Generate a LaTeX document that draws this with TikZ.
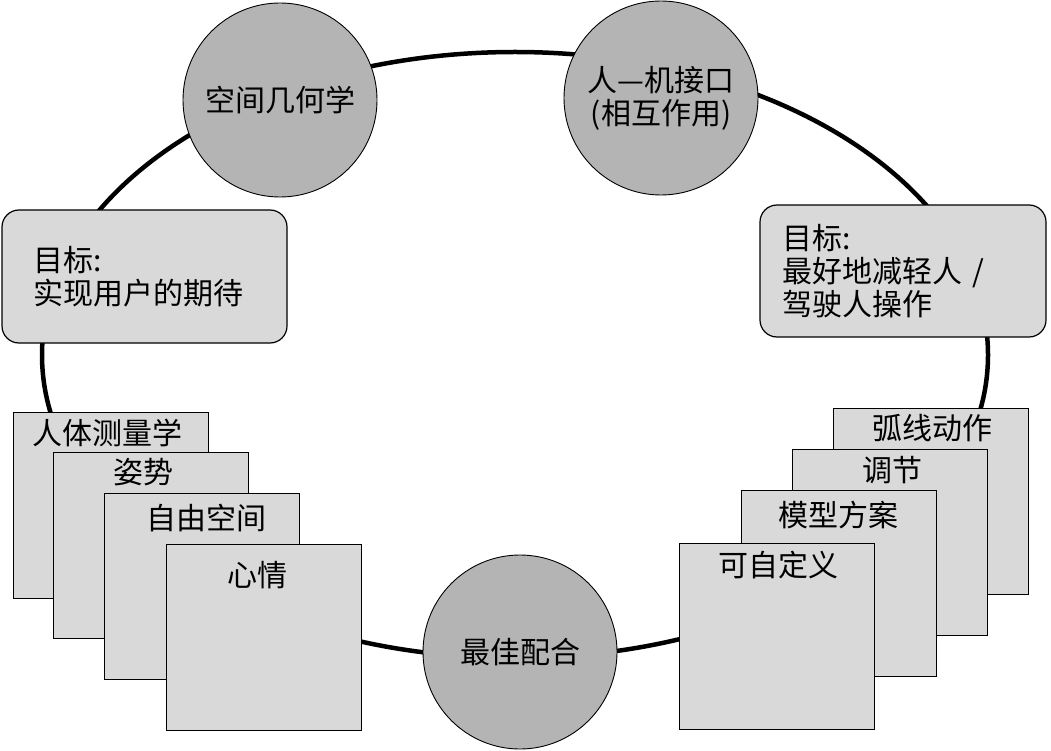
\documentclass[tikz,border=0pt]{standalone}
\usepackage{fontspec}
\setmainfont{Noto Sans CJK SC}
\usetikzlibrary{positioning, shapes.geometric}
\definecolor{hubgrey}{HTML}{B4B4B4}
\definecolor{cardgrey}{HTML}{D9D9D9}
\tikzset{
  ring/.style={
    ellipse, draw=black, line width=4.5pt, inner sep=0pt,
    minimum width=946pt, minimum height=606pt},
  hub/.style={
    circle, draw=black, line width=.9pt, fill=hubgrey, inner sep=0pt,
    minimum size=194pt, align=center, font=\fontsize{30}{33}\selectfont},
  goal/.style={
    draw=black, line width=1.2pt, fill=cardgrey, rounded corners=17pt,
    align=left, font=\fontsize{30}{33}\selectfont, inner ysep=0pt},
  card/.style={
    draw=black, line width=1.2pt, fill=cardgrey, anchor=north west,
    inner sep=0pt, minimum width=195pt, minimum height=186pt},
  cardtext/.style={font=\fontsize{30}{33}\selectfont, inner sep=0pt},
}

\begin{document}
\begin{tikzpicture}[x=1pt, y=-1pt]
  \useasboundingbox (0,0) rectangle (1051,751);
  % the loop behind everything
  \node[ring] (loop) at (515,355) {};
  % hubs on the loop
  \node[hub] (geom) at (280,100) {空间几何学};
  \node[hub] (hmi)  at (661,98)  {人—机接口\\(相互作用)};
  \node[hub] (fit)  at (520,652) {最佳配合};
  % goals
  \node[goal, minimum width=285pt, minimum height=133pt, text width=223pt,
        inner xsep=31pt] (goalL) at (144.5,276.5)
       {目标:\\实现用户的期待};
  \node[goal, minimum width=286pt, minimum height=132pt, text width=242pt,
        inner xsep=22pt] (goalR) at (903,271)
       {目标:\\最好地减轻人 /\\驾驶人操作};
  % left stack
  \node[card] (anthro) at (13,412)  {};
  \node[cardtext] (anthroT) at (107,433) {人体测量学};
  \node[card] (pose)   at (53,452)  {};
  \node[cardtext] (poseT) at (143,472) {姿势};
  \node[card] (space)  at (104,493) {};
  \node[cardtext] (spaceT) at (206,518) {自由空间};
  \node[card] (mood)   at (166,544) {};
  \node[cardtext] (moodT) at (257,575) {心情};
  % right stack
  \node[card] (arc)    at (833,408) {};
  \node[cardtext] (arcT) at (932,428) {弧线动作};
  \node[card] (adjust) at (792,449) {};
  \node[cardtext] (adjustT) at (892,470) {调节};
  \node[card] (model)  at (741,490) {};
  \node[cardtext] (modelT) at (838,515) {模型方案};
  \node[card] (custom) at (679,543) {};
  \node[cardtext] (customT) at (778,565) {可自定义};
\end{tikzpicture}
\end{document}
